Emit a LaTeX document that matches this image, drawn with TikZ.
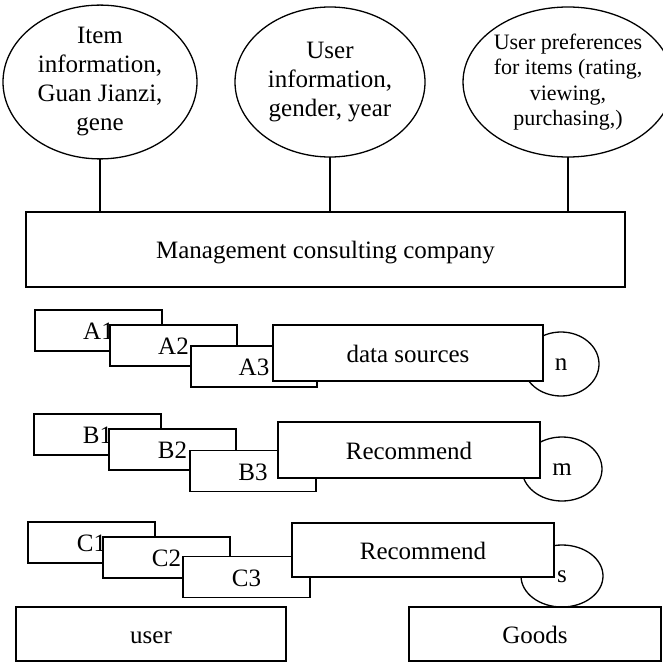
\documentclass[tikz,border=0pt]{standalone}
\usepackage{fontspec}
\setmainfont{Liberation Serif}
\usetikzlibrary{shapes.geometric}
\begin{document}
\begin{tikzpicture}[x=1pt,y=-1pt,
  every node/.style={inner sep=0pt, outer sep=0pt, line width=1.3pt, font=\fontsize{25}{29}\selectfont},
  bx/.style={draw, fill=white, rectangle, text height=20pt, text depth=2pt},
  ell/.style={draw, fill=white, ellipse, align=center},
  circ/.style={draw, fill=white, ellipse, text height=14pt, text depth=2pt},
  conn/.style={line width=1.3pt}]
\useasboundingbox (0,0) rectangle (663,663);
% top ellipses
\node[ell, minimum width=194pt, minimum height=150pt] (e1) at (100,82) {Item\\information,\\Guan Jianzi,\\gene};
\node[ell, minimum width=190pt, minimum height=150pt] (e2) at (330,82) {\rule{0pt}{12pt}User\\information,\\gender, year};
\node[ell, minimum width=184pt, minimum height=150pt, font=\fontsize{22}{25.5}\selectfont] (e3) at (568,82) {User preferences\\for items (rating,\\viewing,\\purchasing,)};
% management box
\node[bx, minimum width=599pt, minimum height=75pt] (mg) at (325.5,249.5) {Management consulting company};
\draw[conn] (e1.south) -- (e1.south |- mg.north);
\draw[conn] (e2.south) -- (e2.south |- mg.north);
\draw[conn] (e3.south) -- (e3.south |- mg.north);
% row A
\node[bx, minimum width=127pt, minimum height=41pt] (A1) at (98.5,330.5) {A1};
\node[bx, minimum width=127pt, minimum height=41pt] (A2) at (173.5,345.5) {A2};
\node[bx, minimum width=126pt, minimum height=41pt] (A3) at (254,366.5) {A3};
\node[circ, minimum width=76pt, minimum height=64pt] (cn) at (561,364) {n};
\node[bx, minimum width=270pt, minimum height=56pt] (ds) at (408,353) {data sources};
% row B
\node[bx, minimum width=127pt, minimum height=41pt] (B1) at (97.5,434.5) {B1};
\node[bx, minimum width=127pt, minimum height=41pt] (B2) at (172.5,449.5) {B2};
\node[bx, minimum width=126pt, minimum height=41pt] (B3) at (253,471) {B3};
\node[circ, minimum width=80pt, minimum height=64pt] (cm) at (562,469) {m};
\node[bx, minimum width=262pt, minimum height=56pt] (rb) at (409,450) {Recommend};
% row C
\node[bx, minimum width=127pt, minimum height=41pt] (C1) at (91.5,542.5) {C1};
\node[bx, minimum width=127pt, minimum height=41pt] (C2) at (166.5,557.5) {C2};
\node[bx, minimum width=127pt, minimum height=41pt] (C3) at (246.5,577) {C3};
\node[circ, minimum width=82pt, minimum height=62pt] (cs) at (562,576) {s};
\node[bx, minimum width=262pt, minimum height=54pt] (rc) at (423,550) {Recommend};
% bottom boxes
\node[bx, minimum width=270pt, minimum height=54pt] (user) at (151,634) {user};
\node[bx, minimum width=252pt, minimum height=54pt] (goods) at (535,634) {Goods};
\end{tikzpicture}
\end{document}
